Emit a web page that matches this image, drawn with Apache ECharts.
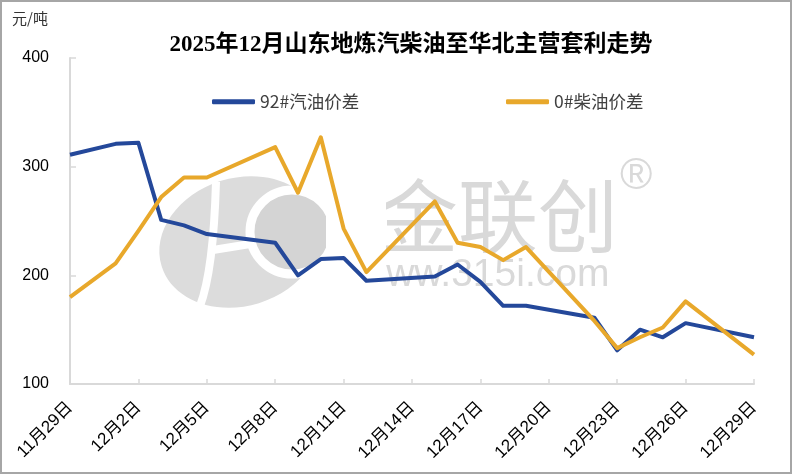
<!DOCTYPE html>
<html>
<head>
<meta charset="utf-8">
<script src="https://cdn.jsdelivr.net/npm/echarts@6/dist/echarts.min.js"></script>
<style>
html,body{margin:0;padding:0;background:#fff;}
#chart{width:792px;height:474px;}
</style>
</head>
<body>
<div id="chart"></div>
<script>
// ---- data ----
var titleText = '2025年12月山东地炼汽柴油至华北主营套利走势';
var unitText = '元/吨';
var categories = ['11月29日','11月30日','12月1日','12月2日','12月3日','12月4日','12月5日','12月6日','12月7日','12月8日','12月9日','12月10日','12月11日','12月12日','12月13日','12月14日','12月15日','12月16日','12月17日','12月18日','12月19日','12月20日','12月21日','12月22日','12月23日','12月24日','12月25日','12月26日','12月27日','12月28日','12月29日'];
var seriesNames = ['92#汽油价差','0#柴油价差'];
var gasolineSpread = [311,null,321,322,251,246,238,null,null,230,200,215,216,195,null,null,199,210,194,172,172,null,null,161,131,150,143,156,null,null,143];
var dieselSpread = [180,null,211,241,272,290,290,null,null,318,276,327,243,203,null,null,268,230,226,214,226,null,null,158,133,143,152,176,null,null,127];
var yTicks = {min:100, max:400, interval:100};

var colors = ['#24489A','#E8A82B'];
var chart = echarts.init(document.getElementById('chart'), null, {renderer:'canvas'});

var option = {
  backgroundColor:'#fff',
  animation:false,
  title:{
    text:titleText,
    left:406, top:29, textAlign:'center',
    textStyle:{fontSize:23, fontWeight:'bold', color:'#000', fontFamily:'"Liberation Serif","Noto Sans CJK SC",serif'}
  },
  legend:[
    {data:[seriesNames[0]], left:207, top:88, itemWidth:43, itemHeight:5, icon:'roundRect',
     textStyle:{fontSize:17.5, color:'#404040', fontFamily:'"Noto Sans CJK SC",sans-serif'}},
    {data:[seriesNames[1]], left:501, top:88, itemWidth:43, itemHeight:5, icon:'roundRect',
     textStyle:{fontSize:17.5, color:'#404040', fontFamily:'"Noto Sans CJK SC",sans-serif'}}
  ],
  grid:{left:70, right:38, top:58, bottom:90, containLabel:false},
  xAxis:{
    type:'category',
    data:categories,
    boundaryGap:false,
    axisLine:{lineStyle:{color:'#d9d9d9', width:2}},
    axisTick:{show:true, inside:true, length:5, interval:2, lineStyle:{color:'#d9d9d9', width:1.5}},
    axisLabel:{interval:2, rotate:45, margin:21, fontSize:17, color:'#000', fontFamily:'"Liberation Sans","Noto Sans CJK SC",sans-serif'},
    splitLine:{show:false}
  },
  yAxis:{
    type:'value',
    min:yTicks.min, max:yTicks.max, interval:yTicks.interval,
    axisLine:{show:true, lineStyle:{color:'#d9d9d9', width:2}},
    axisTick:{show:true, inside:true, length:6, lineStyle:{color:'#d9d9d9', width:1.5}},
    axisLabel:{margin:21, fontSize:16, color:'#000', fontFamily:'"Liberation Sans",sans-serif'},
    splitLine:{show:false}
  },
  graphic:[
    {type:'rect', z:-10, shape:{x:1,y:1,width:790,height:472}, style:{fill:'none', stroke:'#a6a6a6', lineWidth:2}},
    {type:'text', left:12, top:11, style:{text:unitText, fontSize:15, fill:'#333', fontFamily:'"Noto Sans CJK SC",sans-serif'}},
    // watermark logo
    {type:'group', z:-5, children:[
      {type:'ellipse', shape:{cx:240, cy:242, rx:82, ry:64}, rotation:0.3, originX:240, originY:242, style:{fill:'#dcdcdc'}},
      {type:'bezierCurve', shape:{x1:216,y1:182,x2:200,y2:306,cpx1:214,cpy1:250,cpx2:208,cpy2:285}, style:{stroke:'#fff', lineWidth:8, fill:'none'}},
      {type:'line', shape:{x1:213,y1:250,x2:275,y2:240}, style:{stroke:'#fff', lineWidth:8}},
      {type:'circle', shape:{cx:292, cy:232, r:42}, style:{fill:'#d4d4d4', stroke:'#fff', lineWidth:9}},
      {type:'rect', shape:{x:326,y:150,width:60,height:170}, style:{fill:'#fff'}}
    ]},
    {type:'text', z:-5, left:378, top:176, style:{text:'金联创', fontSize:80, fill:'#d9d9d9', fontFamily:'"Noto Sans CJK SC",sans-serif'}},
    {type:'text', z:-5, left:620, top:155, style:{text:'®', fontSize:44, fill:'#d9d9d9', fontFamily:'"Liberation Sans",sans-serif'}},
    {type:'text', z:-5, left:358, top:256, style:{text:'www.315i.com', fontSize:39, fill:'#d9d9d9', fontFamily:'"Liberation Sans",sans-serif'}}
  ],
  series:[
    {name:seriesNames[0], type:'line', data:gasolineSpread, connectNulls:true, symbol:'none',
     lineStyle:{width:4, color:colors[0], join:'round'}, itemStyle:{color:colors[0]}, z:3},
    {name:seriesNames[1], type:'line', data:dieselSpread, connectNulls:true, symbol:'none',
     lineStyle:{width:4, color:colors[1], join:'round'}, itemStyle:{color:colors[1]}, z:4}
  ]
};
chart.setOption(option);
</script>
</body>
</html>
